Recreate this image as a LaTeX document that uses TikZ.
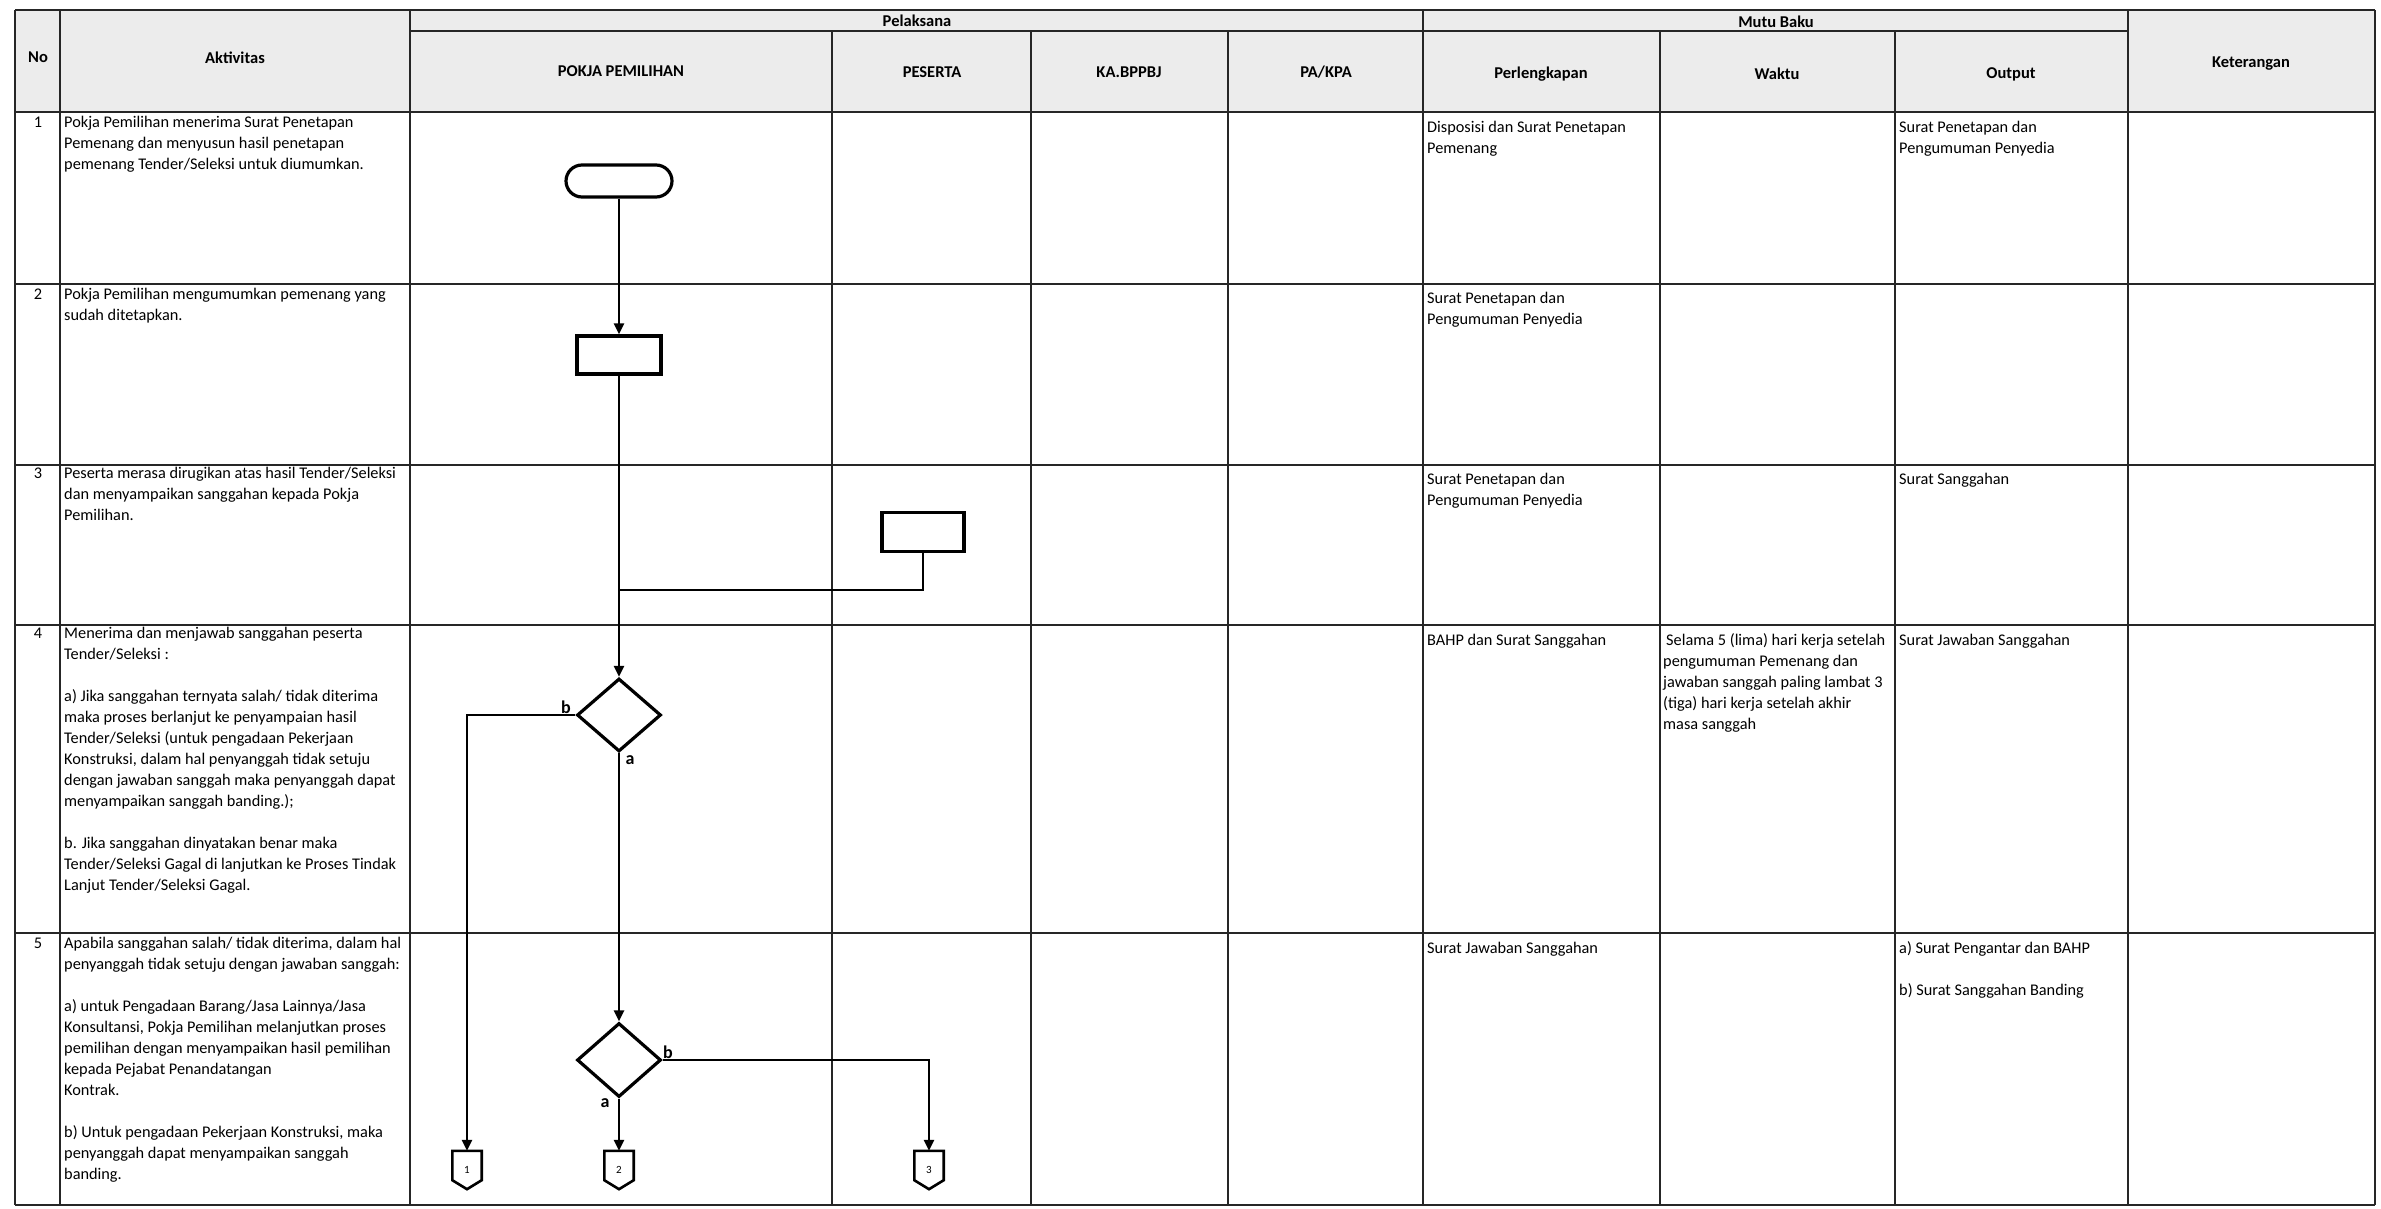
\documentclass[tikz,border=0pt]{standalone}
\usepackage{fontspec}
\setmainfont{Carlito}
\usetikzlibrary{shapes.geometric,arrows.meta}
\newcommand{\cellstrut}{\rule{0pt}{13pt}}
\begin{document}
\begin{tikzpicture}[x=1pt,y=-1pt,
 gridline/.style={line width=2pt,black!85},
 flowline/.style={line width=2.6pt,black,-{Triangle[length=11pt,width=10pt]}},
 plainline/.style={line width=2.6pt,black},
 box/.style={draw,line width=3.2pt,fill=white,inner sep=0pt},
 celltxt/.style={font=\fontsize{16.3}{21}\selectfont,inner sep=0pt,anchor=north west,align=left},
 numtxt/.style={font=\fontsize{16.3}{21}\selectfont,inner sep=0pt,anchor=north},
 hdr/.style={font=\fontsize{16.5}{20}\selectfont\bfseries,inner sep=0pt},
 branch/.style={font=\fontsize{18}{20}\selectfont\bfseries,inner sep=0pt},
 conn/.style={minimum width=29pt,minimum height=38pt,inner sep=0pt,font=\fontsize{11}{12}\selectfont},
 connshape/.style={line width=2.6pt,black},
]
\useasboundingbox (0,0) rectangle (2381,1209);
\fill[white] (0,0) rectangle (2381,1209);
% header background
\fill[gray!15] (15,10) rectangle (2375,112);
% grid
\foreach \yy in {10,112,284,465,625,933,1205} \draw[gridline] (15,\yy) -- (2375,\yy);
\draw[gridline] (410,31) -- (2128,31);
\foreach \xx in {15,60,410,1423,2128,2375} \draw[gridline] (\xx,10) -- (\xx,1205);
\foreach \xx in {832,1031,1228,1660,1895} \draw[gridline] (\xx,31) -- (\xx,1205);

% header texts
\node[hdr] (hno) at (38,57) {No};
\node[hdr] (hakt) at (235,58) {Aktivitas};
\node[hdr] (hpel) at (917,21) {Pelaksana};
\node[hdr] (hmutu) at (1776,22) {Mutu Baku};
\node[hdr] (hket) at (2251,64) {Keterangan};
\node[hdr] (hpokja) at (621,71) {POKJA PEMILIHAN};
\node[hdr] (hpes) at (932,72) {PESERTA};
\node[hdr] (hka) at (1129,72) {KA.BPPBJ};
\node[hdr] (hpa) at (1326,72) {PA/KPA};
\node[hdr] (hperl) at (1541,74) {Perlengkapan};
\node[hdr] (hwak) at (1777,74) {Waktu};
\node[hdr] (hout) at (2011,74) {Output};

% flow
\node[box,rounded corners=16pt,minimum width=106pt,minimum height=32pt] (start) at (619,181) {};
\node[box,minimum width=84pt,minimum height=38pt] (annc) at (619,355) {};
\node[box,minimum width=82pt,minimum height=39pt] (sangg) at (923,532) {};
\node[box,diamond,minimum width=84pt,minimum height=73pt] (dec1) at (619,715) {};
\node[box,diamond,minimum width=84pt,minimum height=74pt] (dec2) at (619,1060) {};
\node[conn] (c1) at (467,1170) {1};
\node[conn] (c2) at (619,1170) {2};
\node[conn] (c3) at (929,1170) {3};
\foreach \c in {c1,c2,c3}
  \draw[connshape] (\c.north west) -- (\c.north east) -- ([yshift=9pt]\c.south east) -- (\c.south) -- ([yshift=9pt]\c.south west) -- cycle;
\coordinate (join) at (619,590);
\draw[flowline] (start.south) -- (annc.north);
\draw[flowline] (annc.south) -- (dec1.north);
\draw[plainline] (sangg.south) |- (join);
\draw[flowline] (dec1.west) -| (c1.north);
\draw[flowline] (dec1.south) -- (dec2.north);
\draw[flowline] (dec2.south) -- (c2.north);
\draw[flowline] (dec2.east) -| (c3.north);
\node[branch] (lb1) at (566,707) {b};
\node[branch] (la1) at (630,760) {a};
\node[branch] (lb2) at (668,1052) {b};
\node[branch] (la2) at (605,1103) {a};

% numbers
\node[numtxt] (n1) at (38,114) {\cellstrut 1};
\node[numtxt] (n2) at (38,286) {\cellstrut 2};
\node[numtxt] (n3) at (38,465) {\cellstrut 3};
\node[numtxt] (n4) at (38,625) {\cellstrut 4};
\node[numtxt] (n5) at (38,935) {\cellstrut 5};

% activities
\node[celltxt] (a1) at (64,114) {\cellstrut Pokja Pemilihan menerima Surat Penetapan\\Pemenang dan menyusun hasil penetapan\\pemenang Tender/Seleksi untuk diumumkan.};
\node[celltxt] (a2) at (64,286) {\cellstrut Pokja Pemilihan mengumumkan pemenang yang\\sudah ditetapkan.};
\node[celltxt] (a3) at (64,465) {\cellstrut Peserta merasa dirugikan atas hasil Tender/Seleksi\\dan menyampaikan sanggahan kepada Pokja\\Pemilihan.};
\node[celltxt] (a4) at (64,625) {\cellstrut Menerima dan menjawab sanggahan peserta\\Tender/Seleksi :\\~\\a) Jika sanggahan ternyata salah/ tidak diterima\\maka proses berlanjut ke penyampaian hasil\\Tender/Seleksi (untuk pengadaan Pekerjaan\\Konstruksi, dalam hal penyanggah tidak setuju\\dengan jawaban sanggah maka penyanggah dapat\\menyampaikan sanggah banding.);\\~\\b. Jika sanggahan dinyatakan benar maka\\Tender/Seleksi Gagal di lanjutkan ke Proses Tindak\\Lanjut Tender/Seleksi Gagal.};
\node[celltxt] (a5) at (64,935) {\cellstrut Apabila sanggahan salah/ tidak diterima, dalam hal\\penyanggah tidak setuju dengan jawaban sanggah:\\~\\a) untuk Pengadaan Barang/Jasa Lainnya/Jasa\\Konsultansi, Pokja Pemilihan melanjutkan proses\\pemilihan dengan menyampaikan hasil pemilihan\\kepada Pejabat Penandatangan\\Kontrak.\\~\\b) Untuk pengadaan Pekerjaan Konstruksi, maka\\penyanggah dapat menyampaikan sanggah\\banding.};

% perlengkapan
\node[celltxt] (p1) at (1427,119) {\cellstrut Disposisi dan Surat Penetapan\\Pemenang};
\node[celltxt] (p2) at (1427,290) {\cellstrut Surat Penetapan dan\\Pengumuman Penyedia};
\node[celltxt] (p3) at (1427,471) {\cellstrut Surat Penetapan dan\\Pengumuman Penyedia};
\node[celltxt] (p4) at (1427,632) {\cellstrut BAHP dan Surat Sanggahan};
\node[celltxt] (p5) at (1427,940) {\cellstrut Surat Jawaban Sanggahan};

% waktu
\node[celltxt] (w4) at (1663,632) {\cellstrut\hspace{3pt}Selama 5 (lima) hari kerja setelah\\pengumuman Pemenang dan\\jawaban sanggah paling lambat 3\\(tiga) hari kerja setelah akhir\\masa sanggah};

% output
\node[celltxt] (o1) at (1899,119) {\cellstrut Surat Penetapan dan\\Pengumuman Penyedia};
\node[celltxt] (o3) at (1899,471) {\cellstrut Surat Sanggahan};
\node[celltxt] (o4) at (1899,632) {\cellstrut Surat Jawaban Sanggahan};
\node[celltxt] (o5) at (1899,940) {\cellstrut a) Surat Pengantar dan BAHP\\~\\b) Surat Sanggahan Banding};
\end{tikzpicture}
\end{document}
